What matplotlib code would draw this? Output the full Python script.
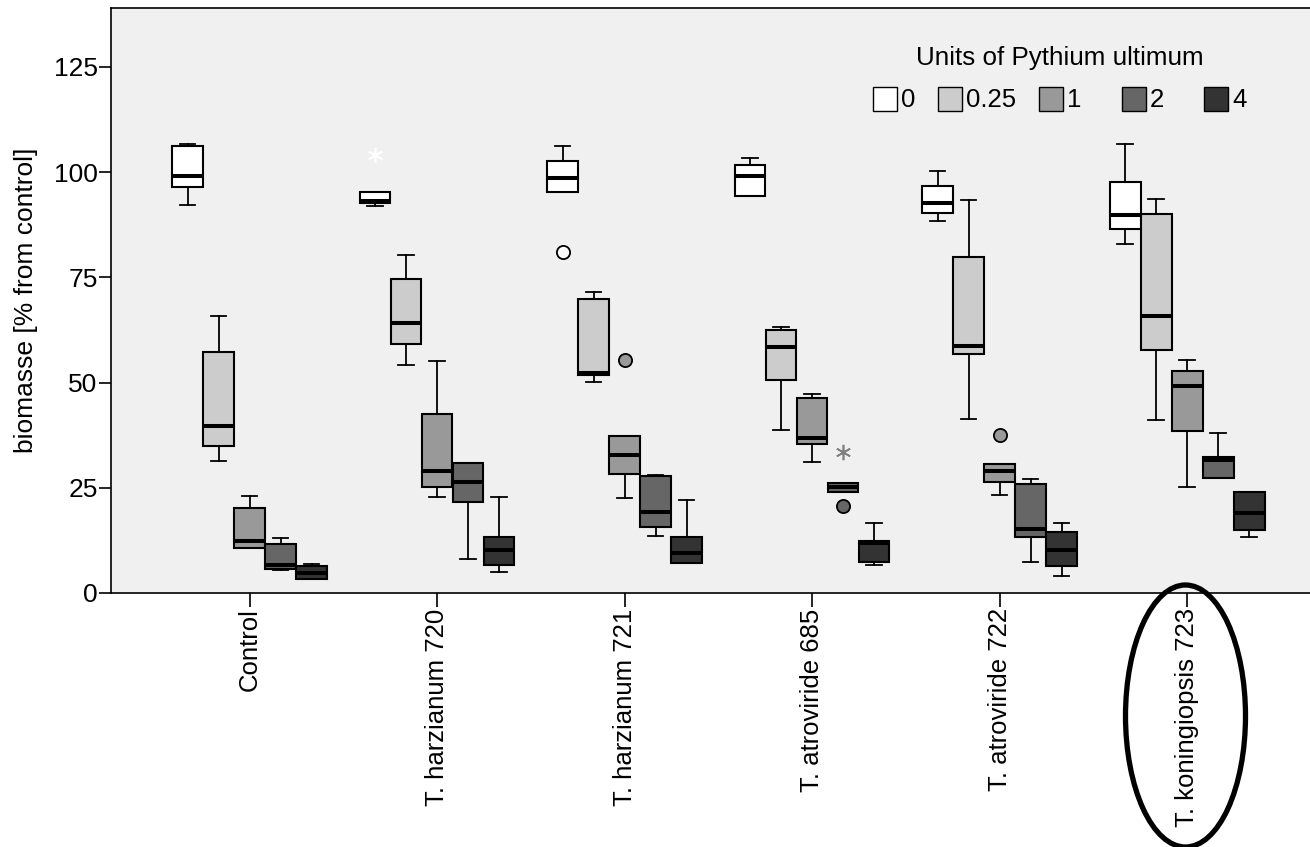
import matplotlib
matplotlib.use("Agg")
import matplotlib.pyplot as plt
from matplotlib.patches import Rectangle, Ellipse

plt.rcParams['font.family'] = ['Liberation Sans', 'DejaVu Sans']

# ---------------- data ----------------
groups = ["Control", "T. harzianum 720", "T. harzianum 721",
          "T. atroviride 685", "T. atroviride 722", "T. koningiopsis 723"]
levels = ["0", "0.25", "1", "2", "4"]
level_colors = ["#ffffff", "#cccccc", "#999999", "#666666", "#333333"]

# level 0
med_0 = [99.0, 93.2, 98.5, 99.0, 92.7, 89.9]
q1_0 = [96.5, 92.7, 95.2, 94.4, 90.3, 86.6]
q3_0 = [106.3, 95.2, 102.7, 101.8, 96.6, 97.6]
lo_0 = [92.2, 91.9, 95.2, 94.4, 88.5, 82.9]
hi_0 = [106.7, 95.2, 106.3, 103.4, 100.3, 106.7]
# level 0.25
med_025 = [39.7, 64.2, 52.3, 58.5, 58.8, 65.8]
q1_025 = [34.9, 59.1, 51.7, 50.5, 56.7, 57.7]
q3_025 = [57.2, 74.6, 69.9, 62.6, 79.9, 90.1]
lo_025 = [31.3, 54.2, 50.1, 38.7, 41.3, 41.1]
hi_025 = [65.7, 80.4, 71.5, 63.2, 93.3, 93.7]
# level 1
med_1 = [12.4, 28.9, 32.9, 36.8, 28.9, 49.3]
q1_1 = [10.7, 25.1, 28.2, 35.3, 26.4, 38.4]
q3_1 = [20.1, 42.5, 37.2, 46.3, 30.6, 52.7]
lo_1 = [10.7, 22.9, 22.5, 31.1, 23.3, 25.2]
hi_1 = [23.1, 55.2, 37.3, 47.4, 30.6, 55.3]
# level 2
med_2 = [6.7, 26.4, 19.3, 25.1, 15.3, 31.6]
q1_2 = [5.7, 21.7, 15.7, 24.0, 13.4, 27.4]
q3_2 = [11.7, 30.8, 27.8, 26.1, 25.9, 32.4]
lo_2 = [5.5, 8.1, 13.5, 24.0, 7.4, 27.4]
hi_2 = [13.0, 31.0, 28.0, 26.1, 27.0, 38.0]
# level 4
med_4 = [4.7, 10.3, 9.6, 11.8, 10.2, 19.0]
q1_4 = [3.3, 6.6, 7.1, 7.3, 6.3, 14.9]
q3_4 = [6.5, 13.4, 13.3, 12.4, 14.6, 23.9]
lo_4 = [3.3, 5.1, 7.1, 6.7, 4.1, 13.2]
hi_4 = [6.9, 22.9, 22.1, 16.6, 16.6, 23.9]

# outliers: group index, level index, value, kind
out_group = [1, 2, 2, 3, 3, 4]
out_level = [0, 0, 2, 3, 3, 2]
out_value = [104.1, 81.1, 55.3, 33.4, 20.7, 37.5]
out_kind = ["star", "circle", "circle", "star", "circle", "circle"]

yticks = [0, 25, 50, 75, 100, 125]

all_stats = [
    (med_0, q1_0, q3_0, lo_0, hi_0),
    (med_025, q1_025, q3_025, lo_025, hi_025),
    (med_1, q1_1, q3_1, lo_1, hi_1),
    (med_2, q1_2, q3_2, lo_2, hi_2),
    (med_4, q1_4, q3_4, lo_4, hi_4),
]

# ---------------- figure ----------------
W, H = 1310, 847
fig = plt.figure(figsize=(W / 100, H / 100), dpi=100)
fig.patch.set_facecolor("white")
ax = fig.add_axes([111 / W, (H - 593) / H, (W - 111) / W, (593 - 8) / H])
ax.set_facecolor("#f0f0f0")

bw = 0.1653
for j, (med, q1, q3, lo, hi) in enumerate(all_stats):
    stats = []
    for i in range(len(groups)):
        stats.append(dict(med=med[i], q1=q1[i], q3=q3[i],
                          whislo=lo[i], whishi=hi[i], fliers=[]))
    pos = [i + (j - 2) * bw for i in range(len(groups))]
    ax.bxp(stats, positions=pos, widths=bw * 0.99, patch_artist=True,
           showfliers=False, capwidths=bw * 0.5,
           boxprops=dict(facecolor=level_colors[j], edgecolor="black", linewidth=1.5),
           medianprops=dict(color="black", linewidth=2.9, solid_capstyle="butt"),
           whiskerprops=dict(color="black", linewidth=1.3),
           capprops=dict(color="black", linewidth=1.3),
           manage_ticks=False, zorder=3)

for g, l, v, k in zip(out_group, out_level, out_value, out_kind):
    x = g + (l - 2) * bw
    if k == "circle":
        ax.plot([x], [v], marker="o", ms=9.5, mfc=level_colors[l], mec="black",
                mew=1.3, ls="none", zorder=4)
    else:
        c = level_colors[l] if l == 0 else "#808080"
        ax.plot([x], [v], marker=(6, 2, 0), ms=11, mec=c, mew=1.2, ls="none", zorder=4)

ax.set_xlim(-0.739, 5.655)
ax.set_ylim(0, 139.0)
ax.set_yticks(yticks)
ax.set_yticklabels([str(t) for t in yticks], fontsize=19)
ax.set_xticks(range(len(groups)))
ax.set_xticklabels(groups, rotation=90, fontsize=18.5, va="top", ha="center")
ax.tick_params(axis="y", length=8.6, width=1.2, pad=1)
ax.tick_params(axis="x", length=10, width=1.2, pad=1)
for s in ["left", "top", "bottom"]:
    ax.spines[s].set_linewidth(1.2)
    ax.spines[s].set_color("black")
ax.spines["right"].set_visible(False)
ax.set_ylabel("biomasse [% from control]", fontsize=19)
ax.yaxis.set_label_coords(-0.061, 0.5)

# ---------------- legend (manual layout) ----------------
fig.text(1060 / W, 1 - 58 / H, "Units of Pythium ultimum", fontsize=18.7,
         ha="center", va="center")
sw_left = [873, 938, 1039, 1122, 1204]
for j, lab in enumerate(levels):
    fig.patches.append(Rectangle((sw_left[j] / W, 1 - 111 / H), 24 / W, 24 / H,
                                 transform=fig.transFigure, facecolor=level_colors[j],
                                 edgecolor="black", linewidth=1.0))
    fig.text((sw_left[j] + 28) / W, 1 - 100 / H, lab, fontsize=18.5,
             ha="left", va="center")

# ---------------- ellipse annotation ----------------
fig.patches.append(Ellipse((1185.5 / W, 1 - 716 / H), 120 / W, 262 / H,
                           transform=fig.transFigure, fill=False,
                           edgecolor="black", linewidth=3.8, clip_on=False))

fig.savefig("out.png", dpi=100)
